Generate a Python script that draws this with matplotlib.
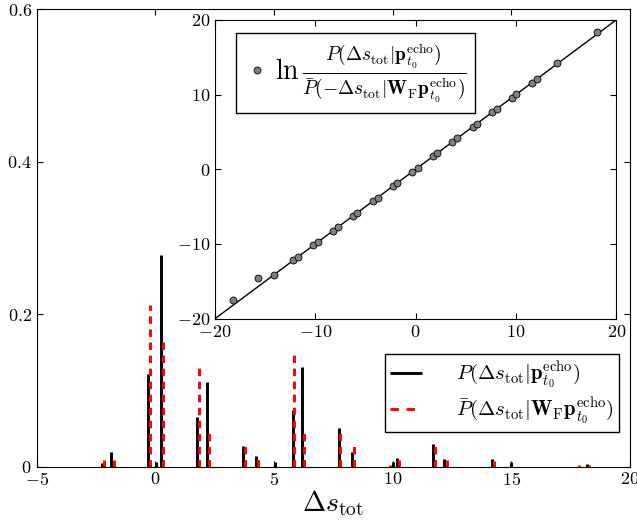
import numpy as np
import matplotlib
matplotlib.use("Agg")
import matplotlib.pyplot as plt
from matplotlib.ticker import FuncFormatter
from matplotlib.lines import Line2D

plt.rcParams['font.family'] = 'serif'
plt.rcParams['font.serif'] = ['cmr10']
plt.rcParams['mathtext.fontset'] = 'cm'
plt.rcParams['lines.scale_dashes'] = False
plt.rcParams['axes.unicode_minus'] = False

# P(ds | p_t0^echo)  -- black bars
black_x = [-2.25, -1.85, -0.31, 0.01, 0.24, 1.76, 2.16, 3.69, 4.24, 5.03, 5.78,
           6.19, 7.73, 8.27, 10.03, 10.19, 11.72, 12.18, 14.19, 15.0, 18.19]
black_h = [0.0045, 0.019, 0.121, 0.006, 0.278, 0.065, 0.111, 0.027, 0.014, 0.006, 0.074,
           0.131, 0.051, 0.019, 0.006, 0.011, 0.029, 0.0098, 0.0098, 0.006, 0.0035]

# Pbar(ds | W_F p_t0^echo)  -- red dashed bars
red_x = [-2.16, -1.75, -0.24, 0.31, 1.83, 2.25, 3.76, 4.33, 5.85, 6.28, 7.8,
         8.35, 9.87, 10.27, 11.8, 12.27, 14.29, 17.84, 18.29]
red_h = [0.009, 0.009, 0.212, 0.169, 0.129, 0.050, 0.028, 0.0095, 0.147, 0.051, 0.051,
         0.027, 0.0017, 0.0085, 0.030, 0.009, 0.0072, 0.0017, 0.0026]

# inset: ln ratio vs ds
ins_x = [-18.2, -15.7, -14.1, -12.2, -11.75, -10.2, -9.75, -8.25, -7.75, -6.2, -5.8,
         -4.3, -3.8, -2.3, -1.85, -0.35, 0.2, 1.72, 2.12, 3.62, 4.12, 5.68, 6.08,
         7.6, 8.1, 9.6, 10.05, 11.55, 12.05, 14.1, 18.1]
ins_y = [-17.5, -14.6, -14.15, -12.2, -11.75, -10.2, -9.75, -8.25, -7.75, -6.2, -5.8,
         -4.3, -3.8, -2.3, -1.85, -0.35, 0.2, 1.72, 2.12, 3.62, 4.12, 5.68, 6.08,
         7.6, 8.1, 9.6, 10.05, 11.55, 12.05, 14.2, 18.4]

lab_p = r'$P(\Delta s_{\rm tot}|\mathbf{p}_{t_0}^{\rm echo})$'
lab_pb = r'$\bar{P}(\Delta s_{\rm tot}|\mathbf{W}_{\rm F}\mathbf{p}_{t_0}^{\rm echo})$'
lab_ln = (r'$\ln\frac{P(\Delta s_{\rm tot}|\mathbf{p}_{t_0}^{\rm echo})}'
          r'{\bar{P}(-\Delta s_{\rm tot}|\mathbf{W}_{\rm F}\mathbf{p}_{t_0}^{\rm echo})}$')

fmt = FuncFormatter(lambda v, p: '$%g$' % v)

fig = plt.figure(figsize=(6.37, 5.27), dpi=100)
ax = fig.add_axes([0.0576, 0.1148, 0.9314, 0.8676])

for i in range(len(black_x)):
    ax.plot([black_x[i], black_x[i]], [0, black_h[i]], color='k', lw=2.1,
            solid_capstyle='butt')
for i in range(len(red_x)):
    ax.plot([red_x[i], red_x[i]], [0, red_h[i]], color='r', lw=2.1,
            dashes=(5.4, 4.0), dash_capstyle='butt')

ax.set_xlim(-5, 20)
ax.set_ylim(0, 0.6)
ax.set_xticks([-5, 0, 5, 10, 15, 20])
ax.set_yticks([0, 0.2, 0.4, 0.6])
ax.xaxis.set_major_formatter(fmt)
ax.yaxis.set_major_formatter(fmt)
ax.tick_params(direction='in', top=True, right=True, length=4.5, labelsize=13)
ax.set_xlabel(r'$\Delta s_{\rm tot}$', fontsize=20, labelpad=0)

h1 = Line2D([], [], color='k', lw=2.1, solid_capstyle='butt')
h2 = Line2D([], [], color='r', lw=2.1, dashes=(6, 5.6), dash_capstyle='butt')
leg = ax.legend([h1, h2], [lab_p, lab_pb], loc='lower right',
                bbox_to_anchor=(0.982, 0.075), borderaxespad=0, fontsize=15,
                fancybox=False, framealpha=1, edgecolor='k', handlelength=1.55,
                handletextpad=1.65, borderpad=0.25, labelspacing=0.22)
leg.get_frame().set_linewidth(1.0)

ins = fig.add_axes([0.3375, 0.3953, 0.630, 0.567])
ins.plot([-20, 20], [-20, 20], color='k', lw=1)
ins.plot(ins_x, ins_y, 'o', ms=5, mfc='gray', mec='k', mew=0.6, ls='none', label=lab_ln)
ins.set_xlim(-20, 20)
ins.set_ylim(-20, 20)
ins.set_xticks([-20, -10, 0, 10, 20])
ins.set_yticks([-20, -10, 0, 10, 20])
ins.xaxis.set_major_formatter(fmt)
ins.yaxis.set_major_formatter(fmt)
ins.tick_params(direction='in', top=True, right=True, length=4.5, labelsize=13)
h, l = ins.get_legend_handles_labels()
leg2 = ins.legend(h[-1:], l[-1:], loc='upper left', bbox_to_anchor=(0.052, 0.955),
                  borderaxespad=0, fontsize=20, numpoints=1, fancybox=False,
                  framealpha=1, edgecolor='k', handlelength=0.9, handletextpad=0.2,
                  borderpad=0.3)
leg2.get_frame().set_linewidth(1.0)

fig.savefig('out.png', dpi=100)
